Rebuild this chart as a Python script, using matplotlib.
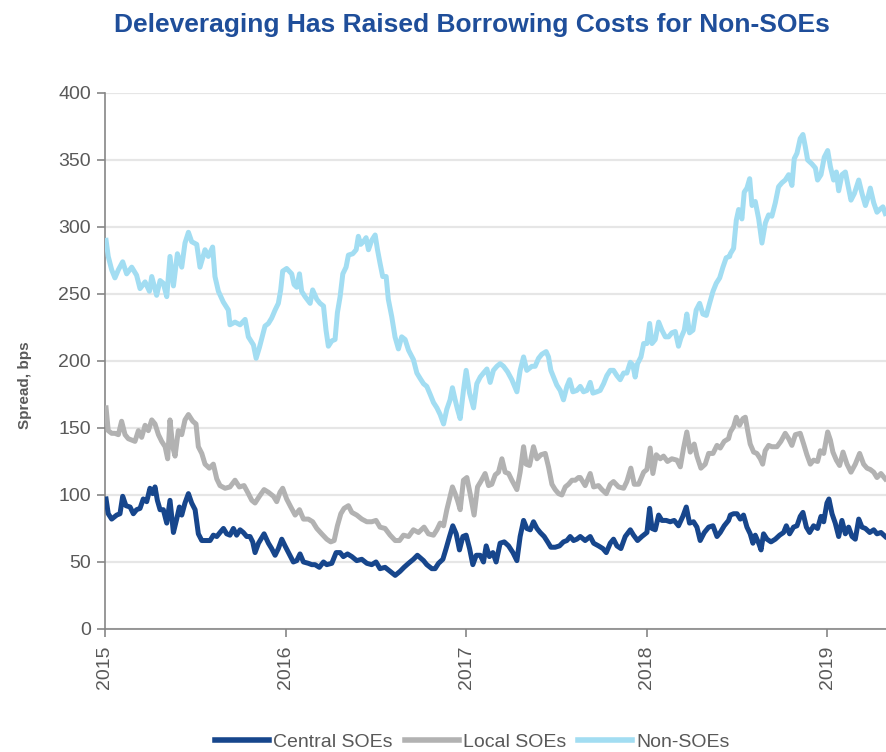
import matplotlib
matplotlib.use("Agg")
import matplotlib.pyplot as plt
import numpy as np

# Corporate bond spreads by issuer type (bps), dates as decimal years
central_dates = [
    2015.006, 2015.018, 2015.037, 2015.065, 2015.083, 2015.098, 2015.116, 2015.139, 2015.157, 2015.175,
    2015.194, 2015.212, 2015.231, 2015.249, 2015.264, 2015.277, 2015.290, 2015.305, 2015.323, 2015.342,
    2015.360, 2015.379, 2015.397, 2015.412, 2015.425, 2015.443, 2015.462, 2015.480, 2015.499, 2015.517,
    2015.536, 2015.560, 2015.582, 2015.600, 2015.619, 2015.637, 2015.656, 2015.674, 2015.692, 2015.711,
    2015.729, 2015.748, 2015.766, 2015.785, 2015.803, 2015.818, 2015.831, 2015.850,
    2015.881, 2015.905, 2015.923, 2015.942, 2015.960, 2015.979, 2015.997, 2016.016, 2016.043, 2016.062,
    2016.080, 2016.099, 2016.126, 2016.145, 2016.163, 2016.187, 2016.210, 2016.228, 2016.256, 2016.280,
    2016.302, 2016.320, 2016.343, 2016.367, 2016.394, 2016.422, 2016.450, 2016.477, 2016.501, 2016.523,
    2016.551, 2016.579, 2016.607, 2016.634, 2016.656, 2016.681, 2016.708, 2016.730,
    2016.764, 2016.782, 2016.810, 2016.828, 2016.847, 2016.871, 2016.889, 2016.908, 2016.926, 2016.945,
    2016.963, 2016.982, 2017.000, 2017.019, 2017.037, 2017.056, 2017.078, 2017.096, 2017.111, 2017.129,
    2017.148, 2017.166, 2017.188, 2017.211, 2017.235, 2017.259, 2017.281, 2017.299, 2017.318, 2017.336,
    2017.355, 2017.373, 2017.392, 2017.410, 2017.432, 2017.451, 2017.469, 2017.493, 2017.517, 2017.539,
    2017.558, 2017.576, 2017.595, 2017.613,
    2017.632, 2017.659, 2017.687, 2017.706, 2017.733, 2017.757, 2017.776, 2017.798, 2017.816, 2017.835,
    2017.857, 2017.881, 2017.909, 2017.927, 2017.949, 2017.973, 2018.001, 2018.016, 2018.029, 2018.047,
    2018.066, 2018.084, 2018.108, 2018.130, 2018.152, 2018.176, 2018.200, 2018.219, 2018.237, 2018.259,
    2018.278, 2018.296, 2018.319, 2018.343, 2018.367, 2018.389, 2018.407, 2018.429, 2018.453,
    2018.463, 2018.481, 2018.500, 2018.518, 2018.536, 2018.555, 2018.573, 2018.588, 2018.601, 2018.620,
    2018.633, 2018.647, 2018.666, 2018.688, 2018.712, 2018.736, 2018.758, 2018.773, 2018.791, 2018.813,
    2018.832, 2018.850, 2018.865, 2018.884, 2018.902, 2018.924, 2018.946, 2018.965, 2018.980, 2018.998,
    2019.009, 2019.026, 2019.044, 2019.063, 2019.081, 2019.100, 2019.118, 2019.137, 2019.155, 2019.174,
    2019.192, 2019.211, 2019.235, 2019.257, 2019.275, 2019.297, 2019.321,
]
central_soes = [
    97, 86, 82, 85, 86, 99, 92, 91, 86, 89,
    90, 97, 95, 105, 101, 106, 96, 89, 89, 79,
    96, 72, 82, 91, 85, 94, 101, 94, 89, 71,
    66, 66, 66, 70, 69, 72, 75, 71, 70, 75,
    70, 74, 72, 69, 69, 65, 57, 64,
    71, 64, 60, 55, 60, 67, 62, 57, 50, 51,
    56, 50, 49, 48, 48, 46, 50, 48, 49, 57,
    57, 54, 56, 54, 51, 52, 49, 48, 50, 45,
    46, 43, 40, 43, 46, 49, 52, 55,
    51, 48, 45, 45, 49, 52, 60, 69, 77, 71,
    59, 69, 70, 60, 48, 55, 55, 50, 62, 54,
    57, 50, 64, 65, 62, 57, 51, 69, 81, 75,
    74, 80, 75, 72, 69, 65, 61, 61, 62, 65,
    66, 69, 66, 67,
    69, 66, 69, 64, 62, 60, 57, 64, 67, 62,
    60, 69, 74, 70, 66, 69, 72, 90, 75, 74,
    85, 81, 81, 80, 81, 77, 84, 91, 79, 80,
    76, 66, 72, 76, 77, 69, 72, 77, 81,
    85, 86, 86, 82, 85, 76, 71, 64, 70, 64,
    59, 71, 67, 65, 67, 70, 72, 77, 71, 76,
    77, 84, 87, 76, 72, 77, 75, 84, 80, 94,
    97, 86, 79, 69, 81, 71, 76, 69, 67, 82,
    76, 75, 72, 74, 71, 72, 69,
]

local_dates = [
    2015.006, 2015.018, 2015.037, 2015.055, 2015.074, 2015.092, 2015.111, 2015.129, 2015.148, 2015.166,
    2015.185, 2015.203, 2015.222, 2015.240, 2015.259, 2015.277, 2015.296, 2015.314, 2015.333, 2015.347,
    2015.360, 2015.375, 2015.388, 2015.406, 2015.425, 2015.443, 2015.462, 2015.486, 2015.504, 2015.517,
    2015.536, 2015.554, 2015.578, 2015.600, 2015.619, 2015.637, 2015.665, 2015.692, 2015.720, 2015.744,
    2015.770, 2015.794, 2015.813, 2015.831, 2015.855,
    2015.881, 2015.905, 2015.933, 2015.951, 2015.969, 2015.984, 2016.006, 2016.029, 2016.053, 2016.077,
    2016.099, 2016.126, 2016.150, 2016.173, 2016.200, 2016.228, 2016.250, 2016.269, 2016.287, 2016.306,
    2016.324, 2016.348, 2016.367, 2016.394, 2016.422, 2016.450, 2016.477, 2016.501, 2016.523, 2016.551,
    2016.579, 2016.607, 2016.631, 2016.653, 2016.681, 2016.708, 2016.736,
    2016.767, 2016.791, 2016.819, 2016.838, 2016.856, 2016.875, 2016.893, 2016.911, 2016.924, 2016.939,
    2016.952, 2016.967, 2016.985, 2017.004, 2017.022, 2017.044, 2017.063, 2017.081, 2017.105, 2017.124,
    2017.142, 2017.161, 2017.179, 2017.198, 2017.216, 2017.235, 2017.253, 2017.281, 2017.299, 2017.318,
    2017.332, 2017.351, 2017.373, 2017.392, 2017.414, 2017.438, 2017.456, 2017.475, 2017.493, 2017.512,
    2017.530, 2017.549, 2017.567, 2017.586, 2017.604, 2017.622,
    2017.632, 2017.659, 2017.687, 2017.706, 2017.733, 2017.752, 2017.776, 2017.798, 2017.816, 2017.844,
    2017.872, 2017.890, 2017.912, 2017.931, 2017.955, 2017.983, 2018.001, 2018.019, 2018.034, 2018.053,
    2018.075, 2018.093, 2018.115, 2018.139, 2018.167, 2018.186, 2018.204, 2018.222, 2018.241, 2018.263,
    2018.278, 2018.300, 2018.324, 2018.343, 2018.367, 2018.389, 2018.407, 2018.429, 2018.453,
    2018.463, 2018.481, 2018.496, 2018.514, 2018.533, 2018.546, 2018.559, 2018.573, 2018.592, 2018.610,
    2018.629, 2018.642, 2018.656, 2018.675, 2018.693, 2018.721, 2018.743, 2018.767, 2018.786, 2018.804,
    2018.823, 2018.850, 2018.869, 2018.887, 2018.906, 2018.924, 2018.946, 2018.961, 2018.980, 2019.002,
    2019.017, 2019.031, 2019.050, 2019.068, 2019.087, 2019.109, 2019.131, 2019.155, 2019.179, 2019.201,
    2019.220, 2019.238, 2019.257, 2019.275, 2019.297, 2019.321,
]
local_soes = [
    165, 148, 146, 146, 145, 155, 145, 142, 141, 140,
    148, 143, 152, 148, 156, 153, 145, 140, 136, 127,
    156, 136, 129, 148, 145, 156, 160, 155, 153, 136,
    131, 123, 120, 123, 112, 107, 105, 106, 111, 106,
    107, 101, 96, 94, 99,
    104, 102, 99, 95, 102, 105, 97, 91, 85, 89,
    82, 82, 80, 75, 71, 67, 65, 66, 77, 86,
    90, 92, 87, 85, 82, 80, 80, 81, 76, 75,
    70, 66, 66, 70, 69, 74, 72,
    76, 71, 70, 74, 79, 77, 89, 99, 106, 101,
    96, 89, 111, 113, 101, 85, 106, 110, 116, 107,
    108, 115, 117, 127, 117, 116, 111, 104, 117, 136,
    123, 122, 136, 127, 130, 131, 121, 108, 104, 101,
    100, 106, 108, 111, 111, 113,
    113, 107, 116, 106, 107, 104, 101, 108, 110, 106,
    105, 110, 120, 108, 108, 117, 119, 135, 116, 130,
    127, 129, 125, 127, 126, 121, 135, 147, 132, 138,
    129, 120, 123, 131, 131, 137, 135, 140, 142,
    147, 151, 158, 152, 157, 158, 148, 138, 132, 131,
    127, 123, 133, 137, 136, 136, 140, 146, 142, 137,
    145, 146, 138, 130, 123, 126, 125, 133, 131, 147,
    141, 132, 126, 122, 132, 123, 117, 123, 131, 123,
    120, 119, 117, 113, 116, 112,
]

non_dates = [
    2015.006, 2015.018, 2015.037, 2015.055, 2015.074, 2015.098, 2015.120, 2015.148, 2015.175, 2015.194,
    2015.222, 2015.246, 2015.259, 2015.286, 2015.305, 2015.323, 2015.342, 2015.360, 2015.379, 2015.401,
    2015.425, 2015.443, 2015.462, 2015.480, 2015.508, 2015.526, 2015.554, 2015.572, 2015.596, 2015.609,
    2015.628, 2015.655, 2015.683, 2015.692, 2015.720, 2015.748, 2015.776, 2015.794, 2015.822, 2015.837,
    2015.855,
    2015.886, 2015.905, 2015.923, 2015.942, 2015.960, 2015.973, 2015.984, 2016.006, 2016.034, 2016.047,
    2016.062, 2016.077, 2016.089, 2016.108, 2016.136, 2016.150, 2016.173, 2016.191, 2016.210, 2016.224,
    2016.237, 2016.256, 2016.274, 2016.287, 2016.302, 2016.317, 2016.335, 2016.348, 2016.372, 2016.391,
    2016.403, 2016.416, 2016.431, 2016.446, 2016.459, 2016.477, 2016.496, 2016.509, 2016.523, 2016.538,
    2016.557, 2016.569, 2016.588, 2016.606, 2016.625, 2016.643, 2016.662, 2016.681, 2016.708, 2016.727,
    2016.745, 2016.764, 2016.782, 2016.801, 2016.819, 2016.838, 2016.856, 2016.875, 2016.893, 2016.911,
    2016.924, 2016.939, 2016.952, 2016.967, 2016.985, 2017.000, 2017.019, 2017.041, 2017.059, 2017.078,
    2017.096, 2017.115, 2017.133, 2017.151, 2017.170, 2017.188, 2017.207, 2017.229, 2017.253, 2017.281,
    2017.299, 2017.318, 2017.336, 2017.364, 2017.382, 2017.401, 2017.419, 2017.443, 2017.456, 2017.469,
    2017.484, 2017.502, 2017.521, 2017.539, 2017.558, 2017.573, 2017.591, 2017.613,
    2017.632, 2017.650, 2017.669, 2017.687, 2017.702, 2017.724, 2017.742, 2017.761, 2017.779, 2017.798,
    2017.816, 2017.835, 2017.853, 2017.872, 2017.890, 2017.909, 2017.923, 2017.936, 2017.949, 2017.968,
    2017.983, 2018.001, 2018.016, 2018.029, 2018.047, 2018.066, 2018.084, 2018.103, 2018.121, 2018.139,
    2018.158, 2018.176, 2018.189, 2018.208, 2018.222, 2018.237, 2018.256, 2018.274, 2018.293, 2018.311,
    2018.330, 2018.348, 2018.367, 2018.385, 2018.404, 2018.422, 2018.440, 2018.459,
    2018.463, 2018.481, 2018.496, 2018.509, 2018.527, 2018.540, 2018.555, 2018.570, 2018.583, 2018.601,
    2018.620, 2018.638, 2018.657, 2018.675, 2018.693, 2018.712, 2018.730, 2018.749, 2018.767, 2018.786,
    2018.804, 2018.817, 2018.832, 2018.850, 2018.865, 2018.878, 2018.891, 2018.915, 2018.934, 2018.946,
    2018.965, 2018.983, 2019.002, 2019.017, 2019.035, 2019.050, 2019.063, 2019.081, 2019.100, 2019.113,
    2019.131, 2019.150, 2019.174, 2019.192, 2019.211, 2019.223, 2019.238, 2019.257, 2019.275, 2019.290,
    2019.308, 2019.321,
]
non_soes = [
    290, 278, 268, 262, 268, 274, 265, 270, 264, 254,
    259, 252, 263, 249, 260, 258, 248, 278, 256, 280,
    270, 288, 296, 289, 287, 270, 283, 278, 285, 263,
    252, 244, 238, 227, 229, 227, 231, 218, 212, 202,
    210,
    226, 228, 232, 238, 243, 253, 267, 269, 265, 257,
    255, 265, 252, 248, 243, 253, 246, 243, 241, 223,
    211, 215, 216, 236, 248, 265, 270, 279, 280, 283,
    293, 287, 289, 292, 283, 290, 294, 283, 273, 263,
    263, 246, 233, 218, 209, 218, 216, 208, 201, 191,
    187, 183, 181, 175, 169, 165, 160, 153, 164, 171,
    180, 171, 164, 157, 178, 193, 176, 165, 183, 188,
    191, 194, 184, 193, 196, 198, 196, 192, 186, 177,
    193, 203, 193, 196, 196, 202, 205, 207, 203, 193,
    188, 182, 178, 171, 181, 186, 177, 178,
    181, 177, 178, 184, 176, 177, 178, 183, 189, 193,
    193, 189, 186, 191, 191, 199, 197, 188, 198, 203,
    213, 213, 228, 213, 216, 229, 223, 218, 218, 221,
    222, 211, 217, 223, 235, 221, 223, 238, 243, 235,
    234, 243, 252, 258, 262, 270, 277, 278,
    280, 284, 305, 313, 306, 326, 329, 336, 316, 319,
    306, 288, 303, 309, 308, 318, 330, 333, 335, 339,
    331, 351, 355, 366, 369, 360, 350, 347, 344, 335,
    339, 352, 357, 345, 335, 341, 327, 339, 341, 332,
    320, 325, 335, 325, 316, 321, 329, 318, 311, 313,
    315, 310,
]

series_labels = ["Central SOEs", "Local SOEs", "Non-SOEs"]
series_colors = ["#17468c", "#b2b2b2", "#a2ddf2"]
year_ticks = [2015, 2016, 2017, 2018, 2019]
y_ticks = [0, 50, 100, 150, 200, 250, 300, 350, 400]

sans = ["Liberation Sans", "DejaVu Sans"]
text_gray = "#595959"

fig = plt.figure(figsize=(8.86, 7.52), dpi=100)
ax = fig.add_axes([0.1185, 0.1636, 0.8815, 0.7128])

for dates, vals, lab, col in zip(
    [central_dates, local_dates, non_dates],
    [central_soes, local_soes, non_soes],
    series_labels, series_colors,
):
    ax.plot(dates, vals, color=col, lw=3.6, label=lab, solid_joinstyle="round", zorder=3)

ax.set_xlim(2015, 2019.325)
ax.set_ylim(0, 400)
ax.set_yticks(y_ticks)
ax.set_xticks(year_ticks)
ax.set_xticklabels([str(y) for y in year_ticks], rotation=90, family=sans,
                   fontsize=14, color=text_gray)
ax.set_yticklabels([str(v) for v in y_ticks], family=sans, fontsize=14, color=text_gray)
ax.grid(axis="y", color="#e6e6e6", lw=1.6, zorder=0)
ax.set_axisbelow(True)
for side in ["top", "right"]:
    ax.spines[side].set_visible(False)
for side in ["left", "bottom"]:
    ax.spines[side].set_color("#868686")
    ax.spines[side].set_linewidth(1.2)
ax.tick_params(axis="both", direction="out", length=6, width=1.2, color="#868686")
ax.tick_params(axis="x", pad=6)
ax.tick_params(axis="y", pad=4)

ax.set_ylabel("Spread, bps", family=sans, fontsize=11,
              fontweight="bold", color=text_gray)
ax.yaxis.set_label_coords(-0.094, 0.455)

fig.text(0.533, 0.967, "Deleveraging Has Raised Borrowing Costs for Non-SOEs",
         ha="center", va="center", family=sans,
         fontsize=19, fontweight="bold", color="#1f4e9a")

leg = fig.legend(loc="center", bbox_to_anchor=(0.533, 0.013), ncol=3, frameon=False,
                 handlelength=2.8, handletextpad=0.2, columnspacing=0.6,
                 prop={"family": sans, "size": 14})
for t in leg.get_texts():
    t.set_color(text_gray)
for h in leg.get_lines():
    h.set_linewidth(4)

fig.savefig("out.png", dpi=100)
